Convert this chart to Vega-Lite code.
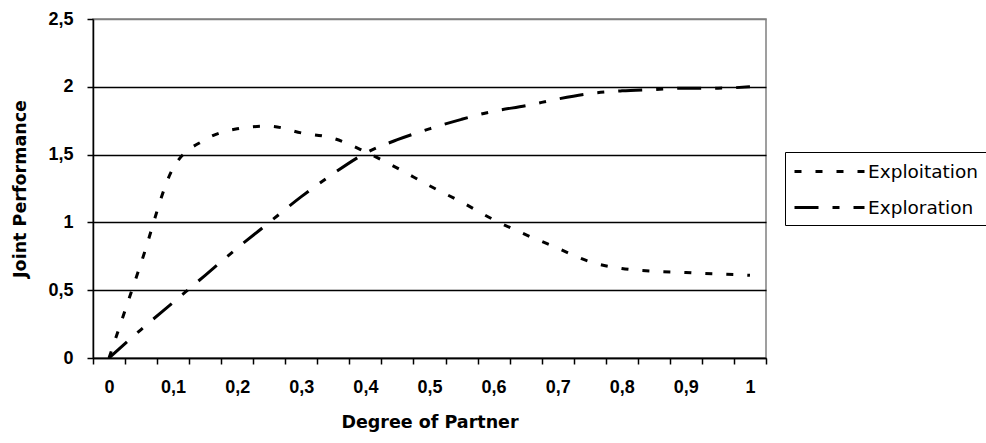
{
  "$schema": "https://vega.github.io/schema/vega-lite/v6.json",
  "width": 673,
  "height": 339,
  "autosize": "none",
  "padding": {"left": 93, "top": 19, "right": 220, "bottom": 85},
  "background": "white",
  "data": {
    "values": [
      {"degree": 0, "performance": 0, "series": "Exploitation"},
      {"degree": 0.05, "performance": 0.70, "series": "Exploitation"},
      {"degree": 0.1, "performance": 1.40, "series": "Exploitation"},
      {"degree": 0.15, "performance": 1.61, "series": "Exploitation"},
      {"degree": 0.2, "performance": 1.69, "series": "Exploitation"},
      {"degree": 0.25, "performance": 1.71, "series": "Exploitation"},
      {"degree": 0.3, "performance": 1.66, "series": "Exploitation"},
      {"degree": 0.35, "performance": 1.62, "series": "Exploitation"},
      {"degree": 0.4, "performance": 1.52, "series": "Exploitation"},
      {"degree": 0.45, "performance": 1.40, "series": "Exploitation"},
      {"degree": 0.5, "performance": 1.27, "series": "Exploitation"},
      {"degree": 0.55, "performance": 1.15, "series": "Exploitation"},
      {"degree": 0.6, "performance": 1.02, "series": "Exploitation"},
      {"degree": 0.65, "performance": 0.91, "series": "Exploitation"},
      {"degree": 0.7, "performance": 0.81, "series": "Exploitation"},
      {"degree": 0.75, "performance": 0.71, "series": "Exploitation"},
      {"degree": 0.8, "performance": 0.66, "series": "Exploitation"},
      {"degree": 0.85, "performance": 0.64, "series": "Exploitation"},
      {"degree": 0.9, "performance": 0.63, "series": "Exploitation"},
      {"degree": 0.95, "performance": 0.62, "series": "Exploitation"},
      {"degree": 1.0, "performance": 0.61, "series": "Exploitation"},
      {"degree": 0, "performance": 0, "series": "Exploration"},
      {"degree": 0.05, "performance": 0.21, "series": "Exploration"},
      {"degree": 0.1, "performance": 0.41, "series": "Exploration"},
      {"degree": 0.15, "performance": 0.61, "series": "Exploration"},
      {"degree": 0.2, "performance": 0.81, "series": "Exploration"},
      {"degree": 0.25, "performance": 1.00, "series": "Exploration"},
      {"degree": 0.3, "performance": 1.19, "series": "Exploration"},
      {"degree": 0.35, "performance": 1.36, "series": "Exploration"},
      {"degree": 0.4, "performance": 1.51, "series": "Exploration"},
      {"degree": 0.45, "performance": 1.61, "series": "Exploration"},
      {"degree": 0.5, "performance": 1.69, "series": "Exploration"},
      {"degree": 0.55, "performance": 1.76, "series": "Exploration"},
      {"degree": 0.6, "performance": 1.82, "series": "Exploration"},
      {"degree": 0.65, "performance": 1.86, "series": "Exploration"},
      {"degree": 0.7, "performance": 1.91, "series": "Exploration"},
      {"degree": 0.75, "performance": 1.95, "series": "Exploration"},
      {"degree": 0.8, "performance": 1.97, "series": "Exploration"},
      {"degree": 0.85, "performance": 1.98, "series": "Exploration"},
      {"degree": 0.9, "performance": 1.99, "series": "Exploration"},
      {"degree": 0.95, "performance": 1.99, "series": "Exploration"},
      {"degree": 1.0, "performance": 2.00, "series": "Exploration"}
    ]
  },
  "mark": {"type": "line", "interpolate": "monotone", "strokeWidth": 3, "color": "black", "strokeCap": "butt", "clip": false},
  "encoding": {
    "x": {
      "field": "degree",
      "type": "quantitative",
      "scale": {"domain": [-0.025, 1.025], "nice": false, "zero": false},
      "axis": {
        "title": "Degree of Partner",
        "values": [-0.025, 0.025, 0.075, 0.125, 0.175, 0.225, 0.275, 0.325, 0.375, 0.425, 0.475, 0.525, 0.575, 0.625, 0.675, 0.725, 0.775, 0.825, 0.875, 0.925, 0.975, 1.025],
        "labelExpr": "round((datum.value + 0.025) * 20) % 2 == 0 ? replace(format(round((datum.value + 0.025) * 20) / 20, '.1~f'), '.', ',') : ''",
        "labelOffset": 16,
        "labelFlush": false,
        "labelOverlap": false,
        "labelBound": false,
        "labelAlign": "center",
        "grid": false,
        "domainColor": "black",
        "domainWidth": 1.5,
        "tickColor": "black",
        "tickWidth": 1.5,
        "tickSize": 6,
        "labelPadding": 14,
        "labelFont": "Liberation Sans",
        "labelFontSize": 18,
        "labelFontWeight": "bold",
        "labelColor": "black",
        "titleFont": "DejaVu Sans",
        "titleFontSize": 17.5,
        "titleFontWeight": "bold",
        "titleColor": "black",
        "titlePadding": 17
      }
    },
    "y": {
      "field": "performance",
      "type": "quantitative",
      "scale": {"domain": [0, 2.5], "nice": false, "zero": true},
      "axis": {
        "title": "Joint Performance",
        "values": [0, 0.5, 1, 1.5, 2, 2.5],
        "labelExpr": "replace(format(datum.value, '.1~f'), '.', ',')",
        "grid": true,
        "gridColor": {"condition": {"test": "datum.value >= 2.5", "value": "#808080"}, "value": "black"},
        "gridWidth": 1.3,
        "domainColor": "black",
        "domainWidth": 1.5,
        "tickColor": "black",
        "tickWidth": 1.5,
        "tickSize": 6,
        "labelPadding": 14,
        "labelFont": "Liberation Sans",
        "labelFontSize": 18,
        "labelFontWeight": "bold",
        "labelColor": "black",
        "titleFont": "DejaVu Sans",
        "titleFontSize": 17.5,
        "titleFontWeight": "bold",
        "titleColor": "black",
        "titlePadding": 18
      }
    },
    "strokeDash": {
      "field": "series",
      "type": "nominal",
      "scale": {"domain": ["Exploitation", "Exploration"], "range": [[7, 14], [24, 14, 7, 14]]},
      "legend": {
        "orient": "none",
        "legendX": 692,
        "legendY": 133,
        "title": null,
        "symbolType": "M-1,0H6",
        "symbolSize": 400,
        "symbolStrokeWidth": 3,
        "symbolStrokeColor": "black",
        "symbolFillColor": "transparent",
        "labelOffset": 52,
        "labelFont": "DejaVu Sans",
        "labelFontSize": 18.5,
        "labelColor": "black",
        "labelLimit": 0,
        "rowPadding": 15,
        "padding": 8,
        "strokeColor": "black",
        "fillColor": "white"
      }
    }
  },
  "config": {
    "view": {"stroke": "#808080", "strokeWidth": 1.5}
  }
}
